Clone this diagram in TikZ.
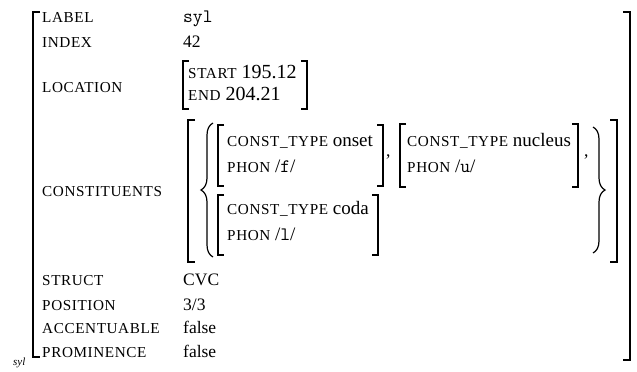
\documentclass[tikz,border=0pt]{standalone}
\usepackage{fontspec}
\setmainfont{Liberation Serif}
\newfontfamily\attrfont[LetterSpace=4.0]{Liberation Serif}
\usetikzlibrary{decorations.pathreplacing}

\newcommand{\attr}[1]{{\attrfont\fontsize{15.2}{17}\selectfont #1}}

\begin{document}
\begin{tikzpicture}[x=1pt, y=-1pt, every node/.style={inner sep=0pt, font=\fontsize{17.5}{20}\selectfont}, feat/.style={anchor=base west}, infeat/.style={anchor=base west, font=\fontsize{19}{21}\selectfont}, locfeat/.style={anchor=base west, font=\fontsize{20}{22}\selectfont}, outerbr/.style={line width=1.5pt}, innerbr/.style={line width=1.1pt}, curly/.style={decorate, decoration={brace, amplitude=12pt}, line width=1.2pt}]

  \useasboundingbox (0,0) rectangle (637,372);

  % outer matrix
  \draw[outerbr] (40,12) -- (33,12) -- (33,357) -- (40,357);
  \draw[outerbr] (623,12) -- (630,12) -- (630,360) -- (623,360);

  \node[feat] (lbl) at (42,22) {\attr{LABEL}};
  \node[infeat] (lblval) at (183,22) {\texttt{syl}};
  \node[feat] (idx) at (42,47) {\attr{INDEX}};
  \node[feat] (idxval) at (183,47) {42};

  % location
  \node[feat] (loc) at (42,92) {\attr{LOCATION}};
  \draw[innerbr] (189,61) -- (183,61) -- (183,109) -- (189,109);
  \draw[innerbr] (301,61) -- (307,61) -- (307,109) -- (301,109);
  \node[locfeat] (start) at (188,78) {\attr{START} 195.12};
  \node[locfeat] (locend) at (188,100) {\attr{END} 204.21};

  % constituents
  \node[feat] (constit) at (42,196) {\attr{CONSTITUENTS}};
  \draw[innerbr] (195,120) -- (188,120) -- (188,262) -- (195,262);
  \draw[innerbr] (610,120) -- (617,120) -- (617,262) -- (610,262);
  \draw[curly] (213,257) -- (213,123);
  \draw[curly] (593,127) -- (593,253);

  \draw[innerbr] (224,125) -- (218,125) -- (218,186) -- (224,186);
  \draw[innerbr] (377,125) -- (383,125) -- (383,186) -- (377,186);
  \node[infeat] (onsettype) at (227,146) {\attr{CONST\_TYPE} onset};
  \node[infeat] (onsetphon) at (227,172) {\attr{PHON} /\texttt{f}/};
  \node[feat] (comma1) at (386,156) {,};

  \draw[innerbr] (406,124) -- (400,124) -- (400,187) -- (406,187);
  \draw[innerbr] (572,124) -- (578,124) -- (578,187) -- (572,187);
  \node[infeat] (nuctype) at (407,146) {\attr{CONST\_TYPE} nucleus};
  \node[infeat] (nucphon) at (407,172) {\attr{PHON} /\texttt{u}/};
  \node[feat] (comma2) at (584,156) {,};

  \draw[innerbr] (224,195) -- (218,195) -- (218,255) -- (224,255);
  \draw[innerbr] (372,195) -- (378,195) -- (378,255) -- (372,255);
  \node[infeat] (codatype) at (227,214) {\attr{CONST\_TYPE} coda};
  \node[infeat] (codaphon) at (227,240) {\attr{PHON} /\texttt{l}/};

  \node[feat] (struct) at (42,285) {\attr{STRUCT}};
  \node[feat] (structval) at (183,285) {CVC};
  \node[feat] (pos) at (42,310) {\attr{POSITION}};
  \node[feat] (posval) at (183,310) {3/3};
  \node[feat] (acc) at (42,333) {\attr{ACCENTUABLE}};
  \node[feat] (accval) at (183,333) {false};
  \node[feat] (prom) at (42,357) {\attr{PROMINENCE}};
  \node[feat] (promval) at (183,357) {false};

  \node[feat, font=\fontsize{11}{12}\selectfont\itshape] (sylmark) at (13,365) {syl};
\end{tikzpicture}
\end{document}
